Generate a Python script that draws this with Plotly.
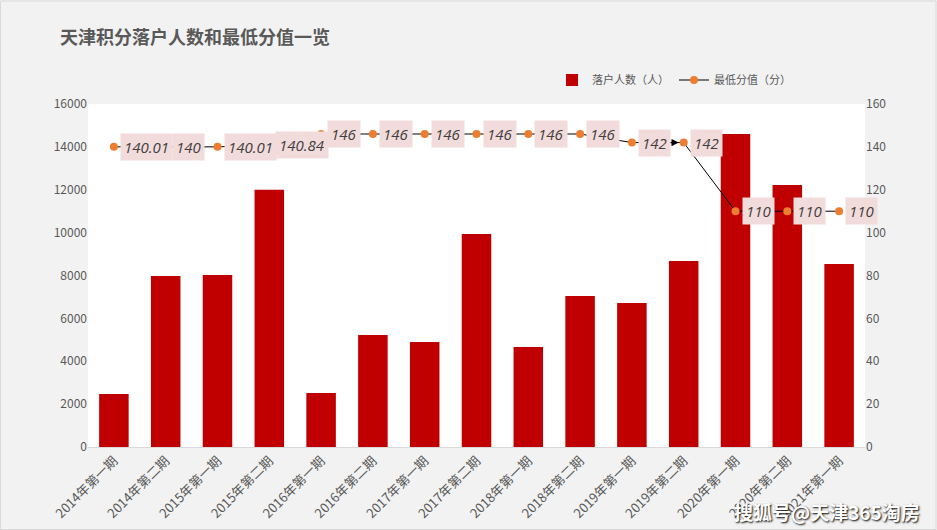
import plotly.graph_objects as go

categories = ["2014年第一期", "2014年第二期", "2015年第一期", "2015年第二期",
              "2016年第一期", "2016年第二期", "2017年第一期", "2017年第二期",
              "2018年第一期", "2018年第二期", "2019年第一期", "2019年第二期",
              "2020年第一期", "2020年第二期", "2021年第一期"]
settled = [2470, 7980, 8020, 12000, 2520, 5220, 4900, 9940, 4660, 7040,
           6720, 8680, 14600, 12220, 8540]
min_score = [140.01, 140, 140.01, 140.84, 146, 146, 146, 146, 146, 146,
             142, 142, 110, 110, 110]
score_labels = ["140.01", "140", "140.01", "140.84", "146", "146", "146", "146",
                "146", "146", "142", "142", "110", "110", "110"]

W, H = 937, 530
ML, MR, MT, MB = 88, 72, 104, 83
FONT = "Noto Sans CJK SC, Noto Sans, sans-serif"
GREY = "#595959"

fig = go.Figure()
fig.add_trace(go.Bar(
    x=categories, y=settled, name="落户人数（人）",
    marker=dict(color="#C00000", line=dict(width=0)),
))
fig.add_trace(go.Scatter(
    x=categories, y=min_score, name="最低分值（分）", yaxis="y2",
    mode="lines+markers",
    line=dict(color="#000000", width=1),
    marker=dict(color="#ED7D31", size=8),
))

annotations = []
for c, v, t in zip(categories, min_score, score_labels):
    annotations.append(dict(
        x=c, y=v, xref="x", yref="y2", text="<i>" + t + "</i>",
        showarrow=False, xanchor="left", yanchor="middle", xshift=6,
        bgcolor="#F2DCDB", borderpad=3,
        font=dict(family="Open Sans, Noto Sans, sans-serif", size=15, color="#404040"),
    ))
# arrowhead between the two 142 points
annotations.append(dict(
    x=categories[11], y=min_score[11], xref="x", yref="y2",
    ax=-14, ay=0,
    text="", showarrow=True, arrowhead=2, arrowsize=1.2, arrowwidth=1.2,
    arrowcolor="#000000", standoff=5, startstandoff=0,
))
# watermark
annotations.append(dict(
    x=(827 - ML) / (W - ML - MR), y=(H - MB - 511) / (H - MT - MB),
    xref="paper", yref="paper", text="<b>搜狐号@天津365淘房</b>",
    showarrow=False, xanchor="center", yanchor="middle",
    font=dict(family=FONT, size=19, color="#FFFFFF", shadow="1px 1px 2px #000000"),
))

pw, ph = W - ML - MR, H - MT - MB
fig.update_layout(
    width=W, height=H,
    margin=dict(l=ML, r=MR, t=MT, b=MB, autoexpand=False),
    paper_bgcolor="#F2F2F2", plot_bgcolor="#FFFFFF",
    font=dict(family=FONT, color=GREY, size=12),
    title=dict(text="<b>天津积分落户人数和最低分值一览</b>", x=60 / W, xref="container",
               xanchor="left", y=1 - 38 / H, yref="container", yanchor="middle",
               font=dict(family=FONT, size=18, color=GREY)),
    bargap=0.43,
    showlegend=True,
    legend=dict(orientation="h", x=(552 - ML) / pw, xanchor="left",
                y=1 + (MT - 80) / ph, yanchor="middle",
                font=dict(size=11, color=GREY), bgcolor="rgba(0,0,0,0)",
                itemwidth=30, tracegroupgap=0),
    xaxis=dict(tickangle=-45, tickfont=dict(size=13, color=GREY),
               range=[-0.5, len(categories) - 0.5],
               showline=True, linecolor="#D9D9D9", linewidth=1,
               showgrid=False, ticks="", automargin=False),
    yaxis=dict(range=[0, 16000], dtick=2000, tickformat="d", showgrid=False,
               zeroline=False, tickfont=dict(size=12, color=GREY), ticks="",
               automargin=False),
    yaxis2=dict(range=[0, 160], dtick=20, overlaying="y", side="right",
                showgrid=False, zeroline=False,
                tickfont=dict(size=12, color=GREY), ticks="", automargin=False),
    annotations=annotations,
    shapes=[dict(type="rect", xref="paper", yref="paper",
                 x0=-ML / pw + 0.5 / pw, x1=1 + (MR - 1) / pw,
                 y0=-MB / ph + 0.5 / ph, y1=1 + (MT - 1) / ph,
                 line=dict(color="#D9D9D9", width=1), layer="below")],
)

fig.write_html("out.html", config={"displayModeBar": False},
               post_script="document.body.style.margin='0';document.body.style.overflow='hidden';")
